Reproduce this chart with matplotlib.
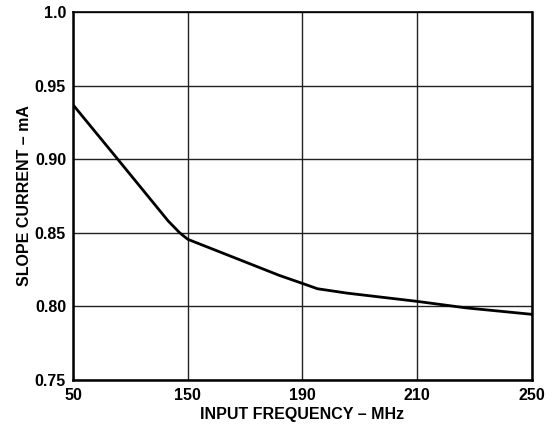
import numpy as np
from matplotlib import pyplot as plt

# tick frequencies (evenly spaced on the chart even though the values are not)
freq_ticks = [50, 150, 190, 210, 250]
current_ticks = [0.75, 0.80, 0.85, 0.90, 0.95, 1.0]
current_labels = ["0.75", "0.80", "0.85", "0.90", "0.95", "1.0"]

# curve
freq = [50, 89, 133, 143, 150, 182, 190, 192.6, 197.8, 210, 227, 250]
slope_current = [0.937, 0.900, 0.858, 0.850, 0.8456, 0.821, 0.8156, 0.812, 0.809, 0.8034, 0.799, 0.7946]

positions = np.arange(len(freq_ticks))


def forward(x):
    return np.interp(x, freq_ticks, positions)


def inverse(p):
    return np.interp(p, positions, freq_ticks)


plt.rcParams['font.family'] = ['Liberation Sans', 'DejaVu Sans']
plt.rcParams['font.weight'] = 'bold'

fig = plt.figure(figsize=(5.58, 4.26), dpi=100)
ax = fig.add_axes([0.1308, 0.108, 0.8226, 0.8638])

ax.set_xscale('function', functions=(forward, inverse))
ax.plot(freq, slope_current, color="black", linewidth=2.0, zorder=3)

ax.set_xlim(50, 250)
ax.set_ylim(0.75, 1.0)
ax.set_xticks(freq_ticks)
ax.set_xticklabels([str(f) for f in freq_ticks])
ax.set_yticks(current_ticks)
ax.set_yticklabels(current_labels)
ax.minorticks_off()

ax.grid(True, color="#222222", linewidth=1.0)
ax.tick_params(length=0, labelsize=11.5)
ax.tick_params(axis="y", pad=5)
ax.tick_params(axis="x", pad=6)

for side in ["left", "bottom", "right"]:
    ax.spines[side].set_linewidth(1.8)
ax.spines["top"].set_linewidth(1.2)

ax.set_xlabel("INPUT FREQUENCY – MHz", fontsize=11.5, fontweight="bold", labelpad=3)
ax.set_ylabel("SLOPE CURRENT – mA", fontsize=11.5, fontweight="bold", labelpad=2)

fig.savefig("out.png", dpi=100)
